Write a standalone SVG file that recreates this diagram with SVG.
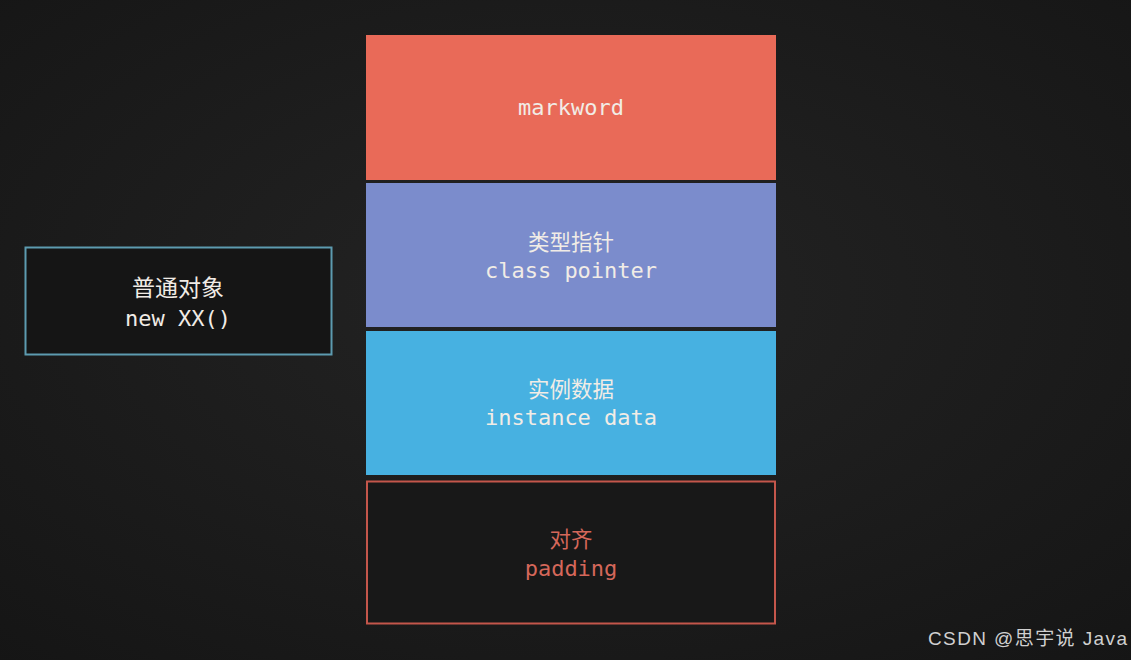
<svg xmlns="http://www.w3.org/2000/svg" width="1131" height="660" viewBox="0 0 1131 660">
<defs>
<radialGradient id="bg" cx="0.5" cy="0.45" r="0.75">
<stop offset="0" stop-color="#242424"/>
<stop offset="1" stop-color="#151515"/>
</radialGradient>
<style>
.mono{font-family:"DejaVu Sans Mono","Liberation Mono","Noto Sans CJK SC",monospace;font-size:22px;text-anchor:middle}
.cjk{font-family:"Noto Sans CJK SC","Noto Sans",sans-serif;font-size:21.5px;text-anchor:middle}
.light{fill:#f1ece6}
.red{fill:#d5675a}
</style>
</defs>
<rect width="1131" height="660" fill="url(#bg)"/>
<g id="object">
<rect x="25.5" y="247.5" width="306" height="107" fill="#151515" stroke="#5d9bb0" stroke-width="2"/>
<text class="cjk light" x="178" y="296" style="font-size:23px">普通对象</text>
<text class="mono light" x="178" y="326">new XX()</text>
</g>
<g id="markword">
<rect x="366" y="35" width="410" height="145" fill="#e96a58"/>
<text class="mono light" x="571" y="115">markword</text>
</g>
<g id="classpointer">
<rect x="366" y="183" width="410" height="144" fill="#7b8ccc"/>
<text class="cjk light" x="571" y="250">类型指针</text>
<text class="mono light" x="571" y="278">class pointer</text>
</g>
<g id="instancedata">
<rect x="366" y="331" width="410" height="144" fill="#47b1e1"/>
<text class="cjk light" x="571" y="397">实例数据</text>
<text class="mono light" x="571" y="425">instance data</text>
</g>
<g id="padding">
<rect x="367" y="481.5" width="408" height="142" fill="#181818" stroke="#c4564b" stroke-width="2"/>
<text class="cjk red" x="571" y="547">对齐</text>
<text class="mono red" x="571" y="576">padding</text>
</g>
<g id="connectors"></g>
<text x="928" y="645" font-family="'Liberation Sans','Noto Sans CJK SC',sans-serif" font-size="19" fill="#d0d0d0" textLength="199" lengthAdjust="spacing">CSDN @思宇说 Java</text>
</svg>
